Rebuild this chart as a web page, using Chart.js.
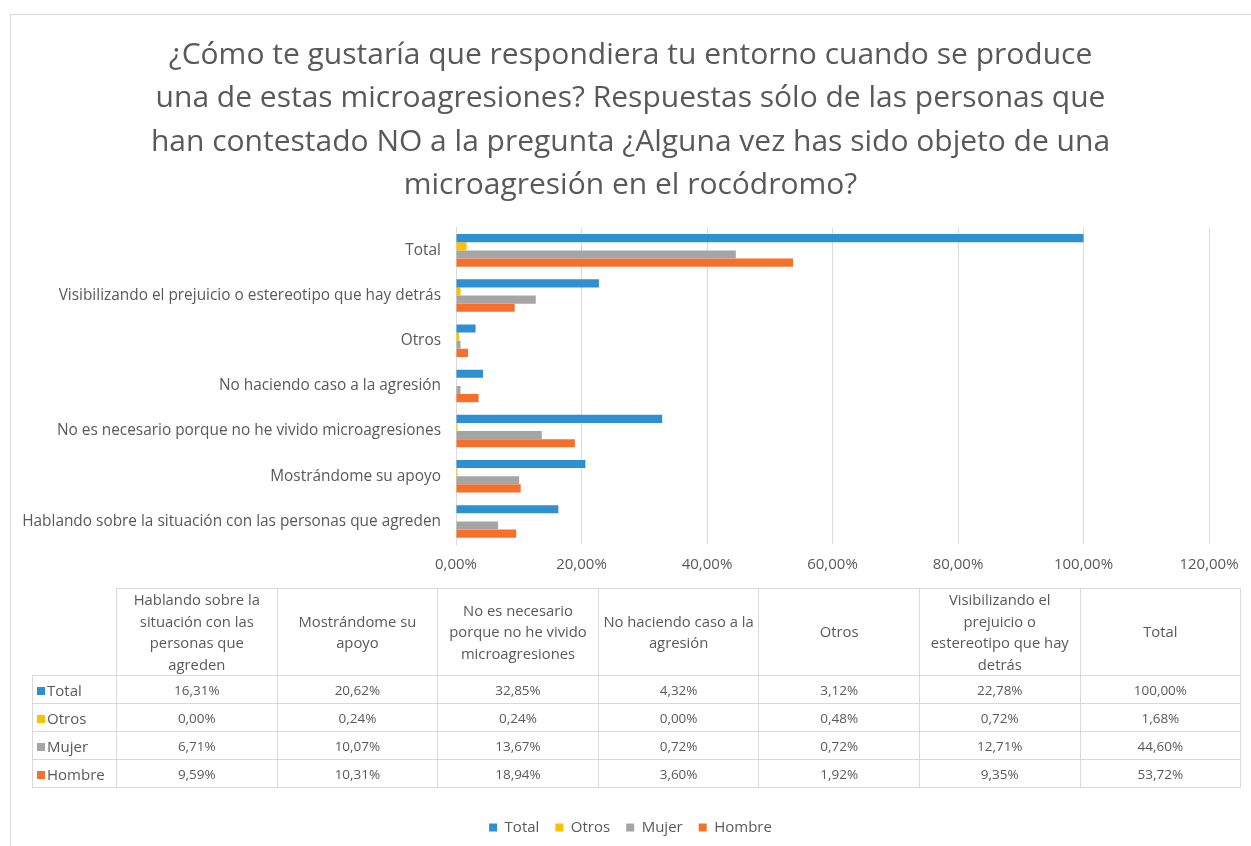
<!DOCTYPE html>
<html>
<head>
<meta charset="utf-8">
<script src="https://cdn.jsdelivr.net/npm/chart.js@4/dist/chart.umd.min.js"></script>
<style>
  html, body { margin: 0; padding: 0; background: #fff; }
  body { width: 1251px; height: 846px; overflow: hidden; position: relative; font-family: "Open Sans", "Noto Sans", sans-serif; }
  #frame { position: absolute; left: 10px; top: 14px; width: 1300px; height: 900px; border: 1px solid #d9d9d9; box-sizing: border-box; }
  #chart { position: absolute; left: 0; top: 0; }
  #tbl { position: absolute; left: 32px; top: 588px; border-collapse: collapse; color: #595959; font-size: 13.5px; table-layout: fixed; }
  #tbl td, #tbl th { border: 1px solid #d9d9d9; text-align: center; font-weight: normal; padding: 0; }
  #tbl th { height: 86px; line-height: 21.5px; vertical-align: middle; font-size: 14.8px; }
  #tbl th.blank { border: none; border-right: 1px solid #d9d9d9; border-bottom: 1px solid #d9d9d9; }
  #tbl td { height: 27px; }
  #tbl td.name { text-align: left; padding-left: 4px; white-space: nowrap; font-size: 15px; }
  .sw { display: inline-block; width: 8px; height: 8px; margin-right: 2px; vertical-align: 1px; }
</style>
</head>
<body>
<div id="frame"></div>
<canvas id="chart" width="1251" height="860"></canvas>
<table id="tbl"></table>
<script>
// ---- data ----
const categories = [
  'Hablando sobre la situación con las personas que agreden',
  'Mostrándome su apoyo',
  'No es necesario porque no he vivido microagresiones',
  'No haciendo caso a la agresión',
  'Otros',
  'Visibilizando el prejuicio o estereotipo que hay detrás',
  'Total'
];
const headerLines = [
  ['Hablando sobre la', 'situación con las', 'personas que', 'agreden'],
  ['Mostrándome su', 'apoyo'],
  ['No es necesario', 'porque no he vivido', 'microagresiones'],
  ['No haciendo caso a la', 'agresión'],
  ['Otros'],
  ['Visibilizando el', 'prejuicio o', 'estereotipo que hay', 'detrás'],
  ['Total']
];
const seriesNames = ['Total', 'Otros', 'Mujer', 'Hombre'];
const totalValues  = [16.31, 20.62, 32.85, 4.32, 3.12, 22.78, 100.00];
const otrosValues  = [0.00, 0.24, 0.24, 0.00, 0.48, 0.72, 1.68];
const mujerValues  = [6.71, 10.07, 13.67, 0.72, 0.72, 12.71, 44.60];
const hombreValues = [9.59, 10.31, 18.94, 3.60, 1.92, 9.35, 53.72];
const xTicks = [0, 20, 40, 60, 80, 100, 120];
const titleLines = [
  '¿Cómo te gustaría que respondiera tu entorno cuando se produce',
  'una de estas microagresiones? Respuestas sólo de las personas que',
  'han contestado NO a la pregunta ¿Alguna vez has sido objeto de una',
  'microagresión en el rocódromo?'
];

const colors = ['#2E8FD1', '#FFC000', '#A5A5A5', '#F5702A'];
const seriesValues = [totalValues, otrosValues, mujerValues, hombreValues];
const fmt = v => v.toFixed(2).replace('.', ',') + '%';
const FONT = '"Open Sans", "Noto Sans", sans-serif';
const GREY = '#595959';

// ---- chart ----
const rev = a => a.slice().reverse();
new Chart(document.getElementById('chart'), {
  type: 'bar',
  data: {
    labels: rev(categories),
    datasets: seriesNames.map((n, i) => ({
      label: n,
      data: rev(seriesValues[i]),
      backgroundColor: colors[i],
      borderWidth: 0,
      barPercentage: 1,
      categoryPercentage: 0.72
    }))
  },
  options: {
    indexAxis: 'y',
    responsive: false,
    animation: false,
    devicePixelRatio: 1,
    layout: { padding: { left: 10, right: 0, top: 0, bottom: 15 } },
    scales: {
      x: {
        min: 0, max: 120,
        afterBuildTicks: s => { s.ticks = xTicks.map(v => ({ value: v })); },
        afterFit: s => { s.height = 260; s.paddingRight = 42; s.paddingLeft = 0; },
        grid: { color: '#d9d9d9', drawTicks: false },
        border: { display: false },
        ticks: { color: GREY, font: { family: FONT, size: 15 }, padding: 12, callback: v => fmt(v) }
      },
      y: {
        afterFit: s => { s.width = 446; },
        grid: { display: false, drawTicks: false },
        border: { display: true, color: '#d9d9d9' },
        ticks: { color: GREY, font: { family: FONT, size: 15.4 }, padding: 15 }
      }
    },
    plugins: {
      title: {
        display: true,
        text: titleLines,
        color: GREY,
        font: { family: FONT, size: 30, weight: 'normal', lineHeight: 1.44 },
        padding: { top: 34, bottom: 21 }
      },
      legend: {
        position: 'bottom',
        labels: { color: GREY, font: { family: FONT, size: 15 }, boxWidth: 8, boxHeight: 8, padding: 16 }
      },
      tooltip: { enabled: false }
    }
  }
});

// ---- data table ----
const tbl = document.getElementById('tbl');
let html = '<colgroup><col style="width:84px">' + categories.map(() => '<col style="width:160.6px">').join('') + '</colgroup>';
html += '<tr><th class="blank"></th>' + headerLines.map(l => '<th>' + l.join('<br>') + '</th>').join('') + '</tr>';
seriesNames.forEach((n, i) => {
  html += '<tr><td class="name"><span class="sw" style="background:' + colors[i] + '"></span>' + n + '</td>' +
    seriesValues[i].map(v => '<td>' + fmt(v) + '</td>').join('') + '</tr>';
});
tbl.innerHTML = html;
</script>
</body>
</html>
